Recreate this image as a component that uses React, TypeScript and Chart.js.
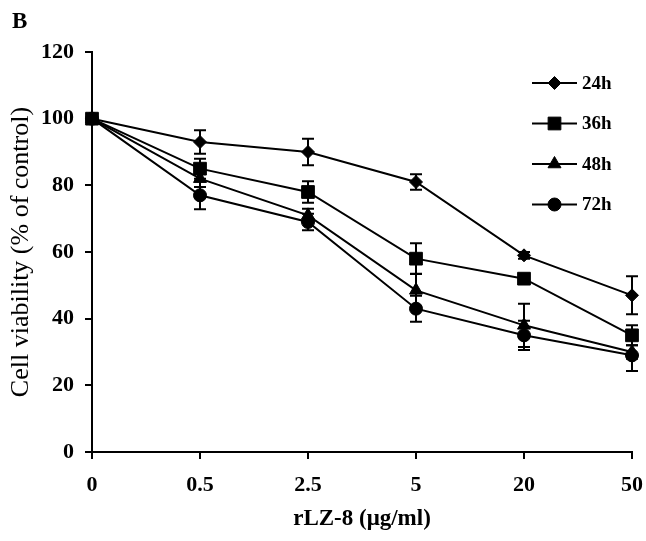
import React, { useEffect, useRef } from "react";
import { Chart, registerables } from "chart.js";

Chart.register(...registerables);

const categories = ["0", "0.5", "2.5", "5", "20", "50"];
const seriesLabels = ["24h", "36h", "48h", "72h"];
const v24 = [100, 93, 90, 81, 59, 47];
const v36 = [100, 85, 78, 58, 52, 35];
const v48 = [100, 82, 71, 48.5, 38, 30];
const v72 = [100, 77, 69, 43, 35, 29];
const e24 = [0, 3.5, 4, 2.3, 1, 5.7];
const e36 = [0, 3, 3.2, 4.6, 1, 3];
const e48 = [0, 2.5, 2, 5, 6.5, 2];
const e72 = [0, 4.2, 2.5, 3.9, 4.4, 4.7];
const yTicks = [0, 20, 40, 60, 80, 100, 120];

const FONT = "'Liberation Serif', 'Times New Roman', serif";

const markers = [
  { style: "rectRot", radius: 6.5 },
  { style: "rect", radius: 9 },
  { style: "triangle", radius: 7.5 },
  { style: "circle", radius: 6.5 },
];

function drawPointSimple(ctx: CanvasRenderingContext2D, style: string, r: number, x: number, y: number) {
  ctx.beginPath();
  if (style === "circle") {
    ctx.arc(x, y, r, 0, Math.PI * 2);
  } else if (style === "rect") {
    const s = Math.SQRT1_2 * r;
    ctx.rect(x - s, y - s, 2 * s, 2 * s);
  } else if (style === "rectRot") {
    ctx.moveTo(x, y - r);
    ctx.lineTo(x + r, y);
    ctx.lineTo(x, y + r);
    ctx.lineTo(x - r, y);
    ctx.closePath();
  } else if (style === "triangle") {
    const a = (Math.PI * 2) / 3;
    ctx.moveTo(x, y - r);
    ctx.lineTo(x + Math.sin(a) * r, y + 0.5 * r);
    ctx.lineTo(x - Math.sin(a) * r, y + 0.5 * r);
    ctx.closePath();
  }
  ctx.fill();
  ctx.stroke();
}

const errorBarPlugin = {
  id: "errorBars",
  beforeDatasetsDraw(chart: any) {
    const ctx = chart.ctx;
    const y = chart.scales.y;
    chart.data.datasets.forEach((ds: any, di: number) => {
      const meta = chart.getDatasetMeta(di);
      const errs = ds.errors as number[];
      meta.data.forEach((pt: any, i: number) => {
        const e = errs[i];
        if (!e) return;
        const v = ds.data[i];
        const top = y.getPixelForValue(v + e);
        const bot = y.getPixelForValue(v - e);
        ctx.save();
        ctx.strokeStyle = "#000";
        ctx.lineWidth = 2;
        ctx.beginPath();
        ctx.moveTo(pt.x, top);
        ctx.lineTo(pt.x, bot);
        ctx.moveTo(pt.x - 6, top);
        ctx.lineTo(pt.x + 6, top);
        ctx.moveTo(pt.x - 6, bot);
        ctx.lineTo(pt.x + 6, bot);
        ctx.stroke();
        ctx.restore();
      });
    });
  },
};

const legendPlugin = {
  id: "innerLegend",
  afterDraw(chart: any) {
    const ctx = chart.ctx;
    const area = chart.chartArea;
    const x0 = area.right - 100;
    const x1 = area.right - 55;
    const xm = (x0 + x1) / 2;
    chart.data.datasets.forEach((ds: any, i: number) => {
      const yy = area.top + 31 + i * 40.5;
      ctx.save();
      ctx.strokeStyle = "#000";
      ctx.lineWidth = 2;
      ctx.beginPath();
      ctx.moveTo(x0, yy);
      ctx.lineTo(x1, yy);
      ctx.stroke();
      ctx.fillStyle = "#000";
      ctx.lineWidth = 1;
      drawPointSimple(ctx, markers[i].style, markers[i].radius, xm, yy);
      ctx.font = "bold 19px " + FONT;
      ctx.textBaseline = "middle";
      ctx.textAlign = "left";
      ctx.fillText(ds.label, x1 + 5, yy + 1);
      ctx.restore();
    });
  },
};

const panelLabelPlugin = {
  id: "panelLabel",
  afterDraw(chart: any) {
    const ctx = chart.ctx;
    ctx.save();
    ctx.fillStyle = "#000";
    ctx.font = "bold 23px " + FONT;
    ctx.textBaseline = "alphabetic";
    ctx.fillText("B", 12, 28);
    ctx.restore();
  },
};

export default function App() {
  const ref = useRef<HTMLCanvasElement>(null);
  useEffect(() => {
    if (!ref.current) return;
    const values = [v24, v36, v48, v72];
    const errs = [e24, e36, e48, e72];
    const chart = new Chart(ref.current, {
      type: "line",
      data: {
        labels: categories,
        datasets: seriesLabels.map((label, i) => ({
          label,
          data: values[i],
          errors: errs[i],
          borderColor: "#000",
          backgroundColor: "#000",
          borderWidth: 2,
          pointStyle: markers[i].style,
          pointRadius: markers[i].radius,
          pointBorderWidth: 1,
          pointBackgroundColor: "#000",
          pointBorderColor: "#000",
          tension: 0,
        })) as any,
      },
      options: {
        animation: false,
        responsive: false,
        devicePixelRatio: 1,
        layout: { padding: { top: 52, right: 14, left: 0, bottom: 0 } },
        plugins: {
          legend: { display: false },
          tooltip: { enabled: false },
        },
        scales: {
          x: {
            type: "category",
            offset: false,
            afterFit: (s: any) => {
              s.height = 89;
              s.paddingLeft = 0;
              s.paddingRight = 0;
            },
            grid: {
              display: true,
              drawOnChartArea: false,
              drawTicks: true,
              tickLength: 7,
              color: "#000",
              lineWidth: 2,
            },
            border: { display: true, color: "#000", width: 2 },
            ticks: {
              color: "#000",
              font: { family: FONT, size: 22, weight: "bold" },
              padding: 13,
              maxRotation: 0,
            },
            title: {
              display: true,
              text: "rLZ-8 (μg/ml)",
              color: "#000",
              font: { family: FONT, size: 23, weight: "bold" },
              padding: { top: 4, bottom: 8 },
            },
          },
          y: {
            min: 0,
            max: 120,
            afterFit: (s: any) => {
              s.width = 92;
              s.paddingTop = 0;
              s.paddingBottom = 0;
            },
            afterBuildTicks: (s: any) => {
              s.ticks = yTicks.map((v) => ({ value: v }));
            },
            grid: {
              display: true,
              drawOnChartArea: false,
              drawTicks: true,
              tickLength: 7,
              color: "#000",
              lineWidth: 2,
            },
            border: { display: true, color: "#000", width: 2 },
            ticks: {
              color: "#000",
              font: { family: FONT, size: 22, weight: "bold" },
              padding: 11,
            },
            title: {
              display: true,
              text: "Cell viability (% of control)",
              color: "#000",
              font: { family: FONT, size: 26, weight: "normal" },
              padding: { top: 6, bottom: 0 },
            },
          },
        },
      } as any,
      plugins: [errorBarPlugin, legendPlugin, panelLabelPlugin],
    });
    return () => chart.destroy();
  }, []);
  return (
    <div style={{ position: "fixed", left: 0, top: 0, width: 646, height: 541, background: "#fff" }}>
      <canvas ref={ref} width={646} height={541} style={{ width: 646, height: 541 }} />
    </div>
  );
}
